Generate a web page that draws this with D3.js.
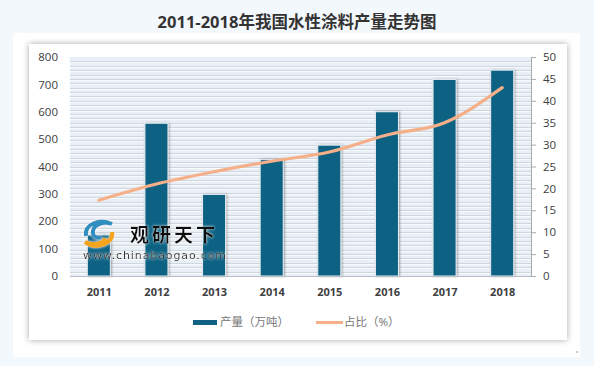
<!DOCTYPE html>
<html>
<head>
<meta charset="utf-8">
<script src="https://cdn.jsdelivr.net/npm/d3@7"></script>
<style>
  body { margin: 0; background: #f3f8fd; }
  svg { display: block; font-family: "Noto Sans", "Noto Sans CJK SC", sans-serif; }
</style>
</head>
<body>
<svg id="chart" width="594" height="366"></svg>
<script>
// data
var years = ["2011","2012","2013","2014","2015","2016","2017","2018"];
var output = [150, 558, 298, 425, 478, 600, 718, 752];      // 产量（万吨）
var share = [17.3, 21.0, 23.8, 26.2, 28.3, 32.2, 35.0, 43.0]; // 占比（%）
var leftTicks = [0,100,200,300,400,500,600,700,800];
var rightTicks = [0,5,10,15,20,25,30,35,40,45,50];

var svg = d3.select("#chart");
var barColor = "#0f6283", lineColor = "#f5b08a";

var defs = svg.append("defs");
var f = defs.append("filter").attr("id","shadow").attr("x","-20%").attr("y","-20%").attr("width","140%").attr("height","140%");
f.append("feDropShadow").attr("dx",0).attr("dy",0).attr("stdDeviation",3).attr("flood-color","#000").attr("flood-opacity",0.35);
var fb = defs.append("filter").attr("id","barshadow").attr("x","-30%").attr("y","-10%").attr("width","160%").attr("height","120%");
fb.append("feDropShadow").attr("dx",1).attr("dy",0).attr("stdDeviation",1.2).attr("flood-color","#000").attr("flood-opacity",0.35);
var fw = defs.append("filter").attr("id","glow").attr("x","-10%").attr("y","-30%").attr("width","120%").attr("height","160%");
fw.append("feDropShadow").attr("dx",0).attr("dy",0).attr("stdDeviation",1.5).attr("flood-color","#fff").attr("flood-opacity",0.9);

// title
svg.append("text").attr("x",297).attr("y",28).attr("text-anchor","middle")
  .attr("font-size",16.5).attr("font-weight","bold").attr("fill","#333")
  .text("2011-2018年我国水性涂料产量走势图");

// panels
svg.append("rect").attr("x",13).attr("y",33).attr("width",567).attr("height",324).attr("fill","#fff");
svg.append("rect").attr("x",29).attr("y",44).attr("width",538).attr("height",296).attr("fill","#fff").attr("filter","url(#shadow)");
svg.append("circle").attr("cx",577).attr("cy",352).attr("r",0.8).attr("fill","#888");

var m = {left:70, right:531, top:57, bottom:276};
var x = d3.scaleBand().domain(years).range([m.left, m.right]).paddingInner(0.6).paddingOuter(0.3);
var xc = d3.scalePoint().domain(years).range([m.left, m.right]).padding(0.5);
var yL = d3.scaleLinear().domain([0,800]).range([m.bottom, m.top]);
var yR = d3.scaleLinear().domain([0,50]).range([m.bottom, m.top]);

// plot background with dense grid
svg.append("rect").attr("x",m.left).attr("y",m.top).attr("width",m.right-m.left).attr("height",m.bottom-m.top).attr("fill","#e9eff6");
svg.append("g").selectAll("line").data(d3.range(1,50)).join("line")
  .attr("x1",m.left).attr("x2",m.right)
  .attr("y1",function(d){return Math.round(yR(d))+0.5;}).attr("y2",function(d){return Math.round(yR(d))+0.5;})
  .attr("stroke","#cfd6de").attr("stroke-width",1);
svg.append("g").selectAll("line").data(d3.range(1,50)).join("line")
  .attr("x1",m.left).attr("x2",m.right)
  .attr("y1",function(d){return Math.round(yR(d))+1.5;}).attr("y2",function(d){return Math.round(yR(d))+1.5;})
  .attr("stroke","#f8fafc").attr("stroke-width",1);

// bars
svg.append("g").selectAll("rect").data(years).join("rect")
  .attr("x",function(d){return x(d);}).attr("width",x.bandwidth())
  .attr("y",function(d,i){return yL(output[i]);})
  .attr("height",function(d,i){return m.bottom - yL(output[i]);})
  .attr("fill",barColor).attr("stroke","#e6eef4").attr("stroke-width",1)
  .attr("filter","url(#barshadow)");

// line
var line = d3.line().x(function(d,i){return xc(years[i]);}).y(function(d){return yR(d);}).curve(d3.curveMonotoneX);
svg.append("path").datum(share).attr("d",line).attr("fill","none")
  .attr("stroke",lineColor).attr("stroke-width",3.2).attr("stroke-linecap","round");

// axes
var gL = svg.append("g").attr("transform","translate("+m.left+",0)")
  .call(d3.axisLeft(yL).tickValues(leftTicks).tickSize(0).tickPadding(12));
gL.select(".domain").remove();
gL.selectAll("text").attr("font-size",11.5).attr("fill","#404040").attr("font-family","'Open Sans', sans-serif");

var gR = svg.append("g").attr("transform","translate("+m.right+",0)")
  .call(d3.axisRight(yR).tickValues(rightTicks).tickSize(5).tickPadding(7));
gR.select(".domain").attr("stroke","#aaa").attr("d","M0.5,"+m.top+"V"+m.bottom);
gR.selectAll("line").attr("stroke","#aaa");
gR.selectAll("text").attr("font-size",11.5).attr("fill","#404040").attr("font-family","'Open Sans', sans-serif");

var gX = svg.append("g").attr("transform","translate(0,"+m.bottom+")")
  .call(d3.axisBottom(xc).tickSize(0).tickPadding(12));
gX.select(".domain").attr("stroke","#b8bec6").attr("d","M"+m.left+",0.5H"+m.right);
gX.selectAll("text").attr("font-size",11).attr("font-weight","bold").attr("fill","#404040").attr("font-family","'Open Sans', sans-serif");

// watermark
var wm = svg.append("g").attr("filter","url(#glow)");
wm.append("path").attr("d","M86,236 C84,224 100,218 112,224 C104,221 94,224 93,231 C92,236 97,239 101,237")
  .attr("fill","none").attr("stroke","#2f8fc0").attr("stroke-width",4);
wm.append("path").attr("d","M112,232 C114,244 96,250 85,242 C93,246 104,244 105,238")
  .attr("fill","none").attr("stroke","#f3a51f").attr("stroke-width",4.5);
wm.append("text").attr("x",130).attr("y",242).attr("font-size",19).attr("font-weight","bold")
  .attr("letter-spacing",3).attr("fill","#111").attr("font-family","'Noto Sans CJK SC', sans-serif").text("观研天下");
wm.append("text").attr("x",83).attr("y",259).attr("font-size",11).attr("fill","#333")
  .attr("font-family","'DejaVu Sans', sans-serif").attr("textLength",143).text("www.chinabaogao.com");

// legend
var lg = svg.append("g");
lg.append("rect").attr("x",175).attr("y",309).attr("width",230).attr("height",24).attr("fill","#fff");
lg.append("rect").attr("x",193).attr("y",320).attr("width",24).attr("height",5).attr("fill",barColor);
lg.append("text").attr("x",220).attr("y",326).attr("font-size",11.5).attr("fill","#777").text("产量（万吨）");
lg.append("line").attr("x1",316).attr("x2",343).attr("y1",322.5).attr("y2",322.5).attr("stroke",lineColor).attr("stroke-width",3);
lg.append("text").attr("x",344).attr("y",326).attr("font-size",11.5).attr("fill","#777").text("占比（%）");
</script>
</body>
</html>
